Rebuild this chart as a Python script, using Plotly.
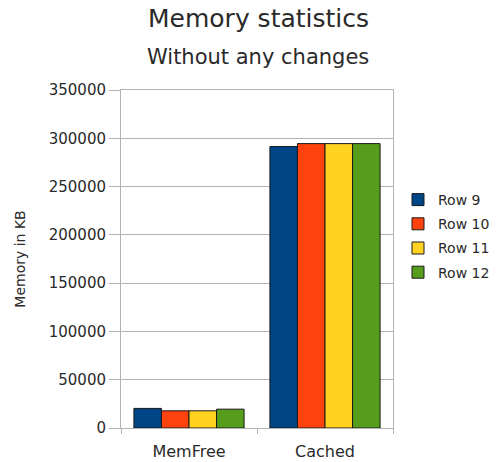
import plotly.graph_objects as go

categories = ["MemFree", "Cached"]
series_names = ["Row 9", "Row 10", "Row 11", "Row 12"]
row9 = [20300, 291500]
row10 = [17800, 294500]
row11 = [17800, 294500]
row12 = [19500, 294500]
series_values = [row9, row10, row11, row12]
colors = ["#004586", "#ff420e", "#ffd320", "#579d1c"]
y_ticks = [0, 50000, 100000, 150000, 200000, 250000, 300000, 350000]

FONT = "DejaVu Sans, Verdana, sans-serif"
TEXT = "#2a2a2a"
GRID = "#b3b3b3"

W, H = 498, 462
ML, MR, MT, MB = 121, 105, 90, 34
plot_w = W - ML - MR
plot_h = H - MT - MB

fig = go.Figure()
for name, vals, col in zip(series_names, series_values, colors):
    fig.add_trace(go.Bar(
        x=categories, y=vals, name=name, legendgroup=name,
        marker=dict(color=col, line=dict(color="#1a1a1a", width=1)),
    ))

fig.update_layout(
    width=W, height=H,
    margin=dict(l=ML, r=MR, t=MT, b=MB, autoexpand=False),
    paper_bgcolor="white", plot_bgcolor="white",
    barmode="group", bargap=0.19, bargroupgap=0,
    font=dict(family=FONT, size=14, color=TEXT),
    showlegend=True,
    legend=dict(xref="container", yref="container",
                x=398 / W, y=1 - 236 / H, xanchor="left", yanchor="middle",
                font=dict(size=14, color=TEXT), tracegroupgap=3,
                bgcolor="rgba(0,0,0,0)", itemwidth=30),
    xaxis=dict(
        automargin=False,
        showgrid=False, showline=True, linecolor=GRID, linewidth=1,
        mirror=True, ticks="outside", tickson="boundaries", ticklen=5,
        tickcolor=GRID, tickfont=dict(size=16, color=TEXT),
        ticklabelstandoff=9,
    ),
    yaxis=dict(
        automargin=False,
        range=[0, 350000], tickvals=y_ticks,
        ticktext=[str(v) for v in y_ticks],
        showgrid=True, gridcolor=GRID, gridwidth=1,
        showline=True, linecolor=GRID, linewidth=1, mirror=True,
        ticks="outside", ticklen=11, tickcolor=GRID,
        tickfont=dict(size=15, color=TEXT), zeroline=False,
        title=dict(text="Memory in KB", font=dict(size=14, color=TEXT), standoff=19),
    ),
    annotations=[
        dict(text="Memory statistics", xref="paper", yref="paper",
             x=(258 - ML) / plot_w, y=1 + (MT - 18) / plot_h,
             xanchor="center", yanchor="middle",
             showarrow=False, font=dict(size=25, color=TEXT)),
        dict(text="Without any changes", xref="paper", yref="paper",
             x=(258 - ML) / plot_w, y=1 + (MT - 57) / plot_h,
             xanchor="center", yanchor="middle",
             showarrow=False, font=dict(size=21, color=TEXT)),
    ],
)

fig.write_html("out.html")
